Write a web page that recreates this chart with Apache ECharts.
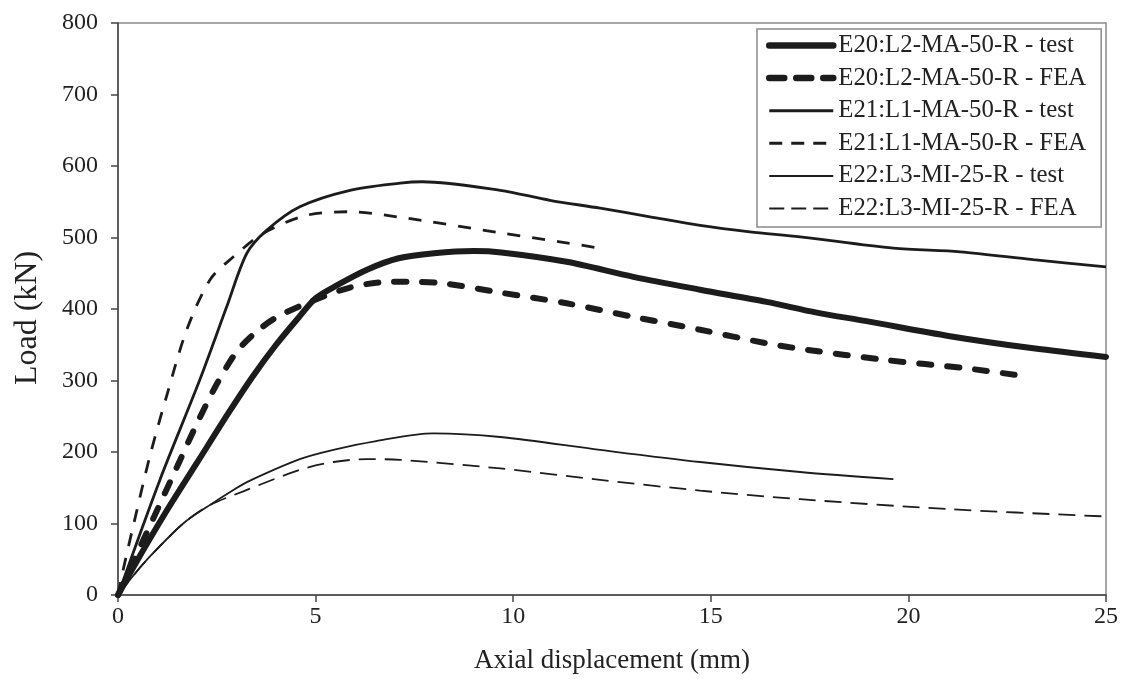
<!DOCTYPE html>
<html>
<head>
<meta charset="utf-8">
<title>Load vs axial displacement</title>
<script src="https://cdn.jsdelivr.net/npm/echarts@6/dist/echarts.min.js"></script>
<style>
  html, body { margin: 0; padding: 0; background: #fff; }
  #chart { width: 1126px; height: 679px; }
</style>
</head>
<body>
<div id="chart"></div>
<script>
// Load–displacement curves: [axial displacement (mm), load (kN)]
const e20Test = [[0,0],[0.4,40],[1.2,115],[2.0,185],[2.8,255],[3.4,305],[4.0,350],[4.6,390],[5.0,415],[5.5,432],[6.3,455],[7.1,471],[8.0,478],[9.0,481],[9.7,479],[11.35,466],[13.04,445],[14.73,427],[16.41,410],[17.68,395],[18.94,383],[21.05,362],[23.16,345],[25,333]];
const e20Fea = [[0,0],[0.5,60],[1.0,120],[1.5,180],[2.0,240],[2.5,295],[3.0,340],[3.5,368],[4.0,388],[4.77,408],[5.87,430],[6.88,438],[7.56,438],[8.23,436],[9.67,423],[11.35,408],[13.04,389],[14.73,371],[16.41,352],[17.43,343],[19.37,329],[21.47,317],[23.08,305]];
const e21Test = [[0,0],[1.06,161],[2.07,301],[2.75,403],[3.26,478],[3.76,510],[4.6,543],[5.87,566],[7.14,576],[7.7,578],[9.67,566],[10.93,552],[12.2,541],[13.46,529],[14.73,517],[15.99,508],[17.26,501],[19.62,485],[21.31,480],[23.16,469],[25,459]];
const e21Fea = [[0,0],[0.13,35],[0.4,100],[0.81,195],[1.25,282],[1.74,371],[2.33,441],[2.92,473],[3.68,506],[4.77,531],[5.87,536],[7.05,529],[9.75,506],[11.18,494],[12.32,484]];
const e22Test = [[0,0],[0.4,28],[0.81,54],[1.65,100],[2.3,125],[2.92,147],[3.34,160],[4.6,190],[5.45,203],[6.5,215],[7.98,226],[9.67,221],[12.2,203],[14.73,186],[17.26,172],[19.62,162]];
const e22Fea = [[0,0],[0.4,28],[0.81,54],[1.65,100],[2.3,125],[3.17,145],[4.6,175],[5.45,186],[6.3,190],[7.14,189],[9.67,177],[12.2,161],[14.73,146],[17.26,134],[21.05,120],[24.93,110]];

const seriesNames = [
  'E20:L2-MA-50-R - test',
  'E20:L2-MA-50-R - FEA',
  'E21:L1-MA-50-R - test',
  'E21:L1-MA-50-R - FEA',
  'E22:L3-MI-25-R - test',
  'E22:L3-MI-25-R - FEA'
];
const seriesData = [e20Test, e20Fea, e21Test, e21Fea, e22Test, e22Fea];

const xTicks = [0, 5, 10, 15, 20, 25];
const yTicks = [0, 100, 200, 300, 400, 500, 600, 700, 800];

const serif = '"Liberation Serif", "Times New Roman", serif';
const ink = '#1c1c1c';

// stroke styles for the plotted curves
const lineStyles = [
  { width: 6, type: 'solid', cap: 'round' },
  { width: 6, type: [12, 16], cap: 'round' },
  { width: 2.8, type: 'solid' },
  { width: 2.8, type: [13, 12] },
  { width: 1.8, type: 'solid' },
  { width: 1.8, type: [17, 9] }
];
// stroke styles for the legend keys
const keyStyles = [
  { width: 6.5, type: 'solid', cap: 'round' },
  { width: 6.5, type: [15, 12], cap: 'round' },
  { width: 3, type: 'solid' },
  { width: 3, type: [13, 9] },
  { width: 2, type: 'solid' },
  { width: 2, type: [15, 7] }
];

const chart = echarts.init(document.getElementById('chart'), null, { renderer: 'canvas' });

chart.setOption({
  backgroundColor: '#fff',
  animation: false,
  textStyle: { fontFamily: serif, color: '#222' },
  grid: {
    left: 118, right: 20, top: 23, bottom: 84,
    show: true, borderColor: '#8a8a8a', borderWidth: 1.5, backgroundColor: 'transparent'
  },
  legend: {
    orient: 'vertical',
    left: 757, top: 29,
    padding: [4, 15, 6, 9],
    itemWidth: 64, itemHeight: 14, itemGap: 7.6,
    backgroundColor: '#fff',
    borderColor: '#8a8a8a', borderWidth: 1.5,
    itemStyle: { opacity: 0, color: 'transparent', borderWidth: 0 },
    textStyle: { fontFamily: serif, fontSize: 24.8, color: '#222', lineHeight: 24 },
    data: seriesNames.map((name, i) => ({
      name: name,
      lineStyle: Object.assign({ color: ink }, keyStyles[i])
    }))
  },
  xAxis: {
    type: 'value',
    min: xTicks[0], max: xTicks[xTicks.length - 1], interval: 5,
    name: 'Axial displacement (mm)',
    nameLocation: 'middle', nameGap: 52,
    nameTextStyle: { fontFamily: serif, fontSize: 27, color: '#222' },
    axisLine: { show: true, lineStyle: { color: '#444', width: 1.5 } },
    axisTick: { show: true, inside: false, length: 7, lineStyle: { color: '#444', width: 1.5 } },
    axisLabel: { fontFamily: serif, fontSize: 24, color: '#222', margin: 10 },
    splitLine: { show: false }
  },
  yAxis: {
    type: 'value',
    min: yTicks[0], max: yTicks[yTicks.length - 1], interval: 100,
    name: 'Load (kN)',
    nameLocation: 'middle', nameGap: 74, nameRotate: 90,
    nameTextStyle: { fontFamily: serif, fontSize: 32, color: '#222', padding: [0, 18, 0, 0] },
    axisLine: { show: true, lineStyle: { color: '#444', width: 1.5 } },
    axisTick: { show: true, inside: false, length: 7, lineStyle: { color: '#444', width: 1.5 } },
    axisLabel: { fontFamily: serif, fontSize: 24, color: '#222', margin: 20 },
    splitLine: { show: false }
  },
  series: seriesNames.map((name, i) => ({
    name: name,
    type: 'line',
    data: seriesData[i],
    symbol: 'none',
    smooth: 0.3,
    color: ink,
    lineStyle: Object.assign({ color: ink }, lineStyles[i]),
    z: 10 - i
  }))
});
</script>
</body>
</html>
